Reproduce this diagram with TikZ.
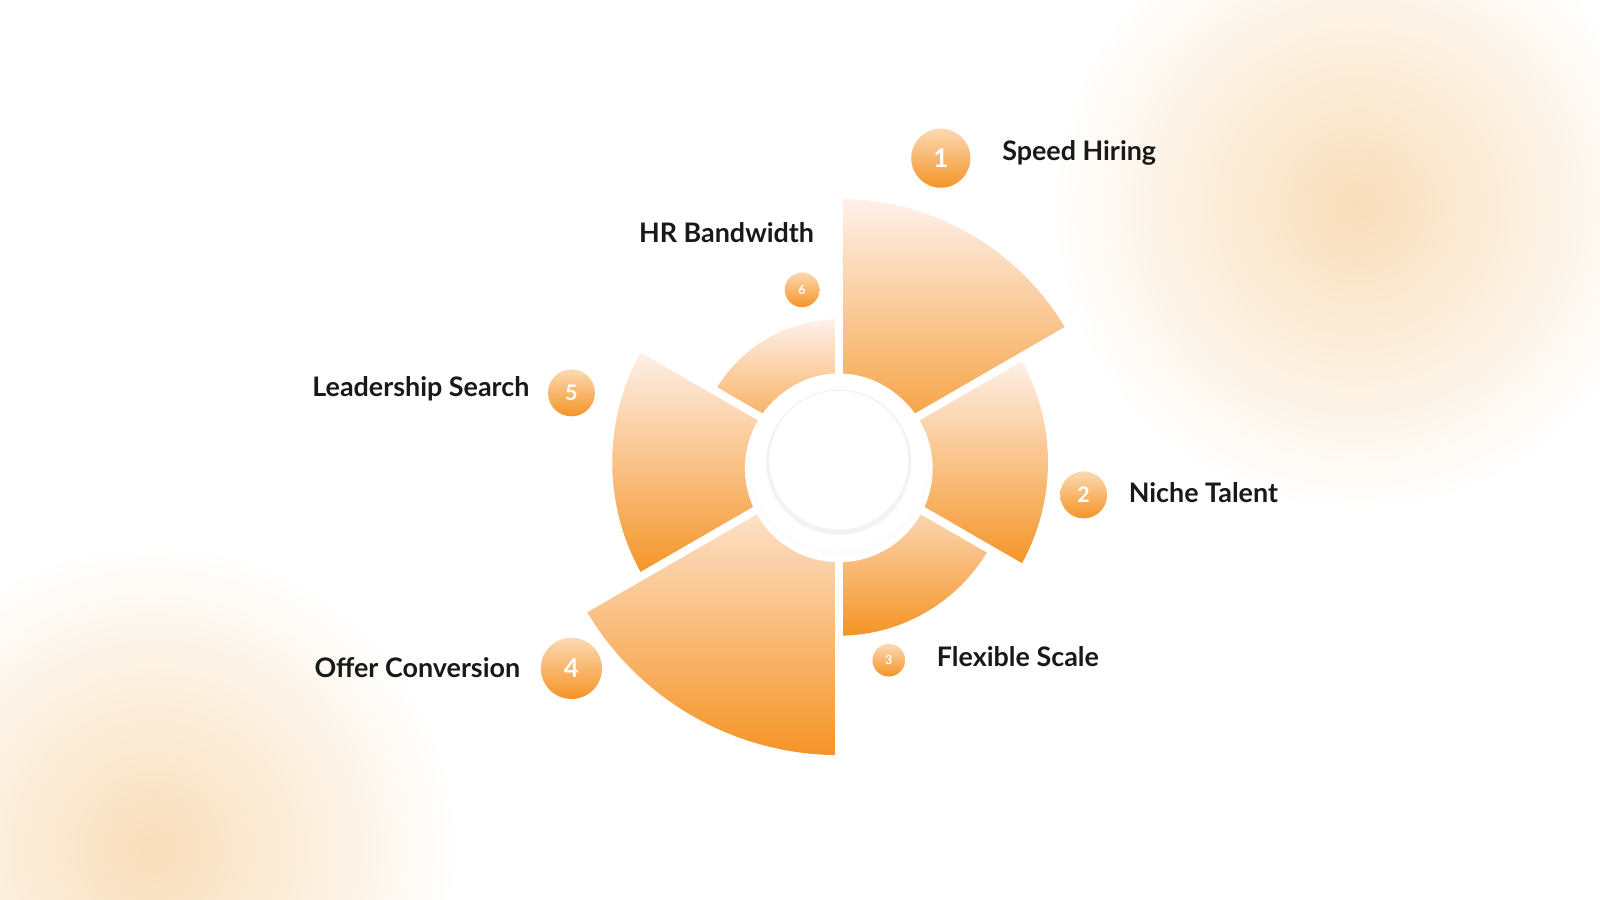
\documentclass[tikz,border=0pt]{standalone}
\usepackage{fontspec}
\setmainfont{Lato}
\usetikzlibrary{calc}
\definecolor{myor}{RGB}{245,148,38}
\definecolor{mylt}{RGB}{254,241,234}
\definecolor{blob}{RGB}{249,222,186}
\begin{document}
\begin{tikzpicture}[x=0.02cm,y=0.02cm,
  sector/.style={top color=mylt, bottom color=myor},
  num/.style={circle, top color=myor!35!white, bottom color=myor, text=white, font=\bfseries, inner sep=0pt},
  lab/.style={font=\bfseries\fontsize{15}{17}\selectfont, text=black!90}]
\useasboundingbox (0,0) rectangle (1568,882);
\fill[white] (0,0) rectangle (1568,882);
\begin{scope}
\clip (0,0) rectangle (1568,882);
\shade[inner color=blob, outer color=white] (1330,680) circle (300);
\shade[inner color=blob, outer color=white] (150,50) circle (300);
\end{scope}
\coordinate (O) at (822,429);
\shade[sector] (O) -- ++(30:258) arc (30:90:258) -- cycle;
\shade[sector] (O) -- ++(-30:205) arc (-30:30:205) -- cycle;
\shade[sector] (O) -- ++(-90:170) arc (-90:-30:170) -- cycle;
\shade[sector] (O) -- ++(-150:287) arc (-150:-90:287) -- cycle;
\shade[sector] (O) -- ++(150:222) arc (150:210:222) -- cycle;
\shade[sector] (O) -- ++(90:140) arc (90:150:140) -- cycle;
\foreach \a/\r in {30/260,90/260,150/224,210/289,270/289,330/207}
  \draw[white, line width=0.16cm] (O) -- ++(\a:\r);
\shade[inner color=black!12, outer color=white] ($(O)+(0,-6)$) circle (92);
\fill[white] (O) circle (87);
\shade[inner color=white, outer color=black!5] (O) circle (71);
\fill[white] ($(O)+(0,2)$) circle (68);
\node[num, minimum size=58*0.02cm, font=\bfseries\Large] (n1) at (922,727) {1};
\node[num, minimum size=46*0.02cm, font=\bfseries\large] (n2) at (1062,397) {2};
\node[num, minimum size=32*0.02cm, font=\bfseries\scriptsize] (n3) at (871,235) {3};
\node[num, minimum size=60*0.02cm, font=\bfseries\Large] (n4) at (560,227) {4};
\node[num, minimum size=46*0.02cm, font=\bfseries\large] (n5) at (560,497) {5};
\node[num, minimum size=34*0.02cm, font=\bfseries\scriptsize] (n6) at (786,598) {6};
\node[lab, anchor=west] (l1) at (976,732) {Speed Hiring};
\node[lab, anchor=west] (l2) at (1100,399) {Niche Talent};
\node[lab, anchor=west] (l3) at (912,239) {Flexible Scale};
\node[lab, anchor=east] (l4) at (516,228) {Offer Conversion};
\node[lab, anchor=east] (l5) at (525,501) {Leadership Search};
\node[lab] (l6) at (712,654) {HR Bandwidth};
\end{tikzpicture}
\end{document}
